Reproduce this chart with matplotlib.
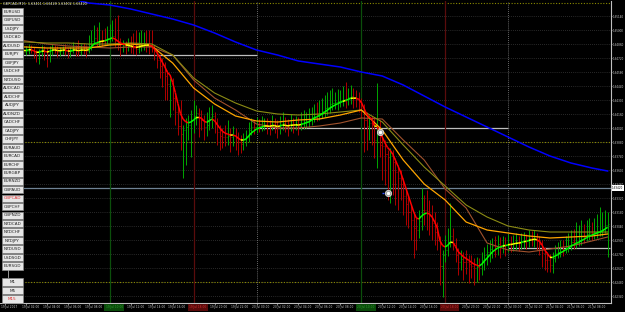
import numpy as np
import pandas as pd
import matplotlib
matplotlib.use("Agg")
import matplotlib.pyplot as plt
import matplotlib.transforms as mtransforms
from matplotlib.collections import LineCollection
from matplotlib.patches import Rectangle
from datetime import datetime, timedelta

# GBPCAD, M15 bars from 19 Jul 2017 00:00
bar_high = [
    1.6486, 1.6484, 1.6485, 1.6482, 1.6484, 1.6488, 1.6486, 1.6483, 1.6484, 1.6486, 1.6485, 1.6483,
    1.6480, 1.6481, 1.6485, 1.6484, 1.6482, 1.6484, 1.6486, 1.6485, 1.6484, 1.6483, 1.6484, 1.6486,
    1.6482, 1.6483, 1.6488, 1.6485, 1.6490, 1.6486, 1.6487, 1.6485, 1.6495, 1.6500, 1.6505, 1.6503,
    1.6508, 1.6500, 1.6502, 1.6504, 1.6506, 1.6510, 1.6512, 1.6515, 1.6492, 1.6490, 1.6489, 1.6492,
    1.6494, 1.6497, 1.6500, 1.6498, 1.6500, 1.6498, 1.6500, 1.6500, 1.6500, 1.6485, 1.6480, 1.6475,
    1.6472, 1.6468, 1.6460, 1.6452, 1.6452, 1.6435, 1.6425, 1.6430, 1.6405, 1.6412, 1.6415, 1.6420,
    1.6430, 1.6425, 1.6422, 1.6420, 1.6415, 1.6418, 1.6423, 1.6425, 1.6418, 1.6412, 1.6405, 1.6402,
    1.6405, 1.6410, 1.6402, 1.6404, 1.6402, 1.6398, 1.6395, 1.6397, 1.6400, 1.6408, 1.6412, 1.6410,
    1.6413, 1.6411, 1.6414, 1.6412, 1.6412, 1.6410, 1.6415, 1.6412, 1.6410, 1.6414, 1.6418, 1.6413,
    1.6411, 1.6416, 1.6412, 1.6414, 1.6413, 1.6418, 1.6420, 1.6418, 1.6422, 1.6423, 1.6426, 1.6428,
    1.6430, 1.6432, 1.6435, 1.6438, 1.6440, 1.6442, 1.6438, 1.6441, 1.6440, 1.6444, 1.6448, 1.6442,
    1.6445, 1.6442, 1.6440, 1.6438, 1.6432, 1.6426, 1.6418, 1.6415, 1.6414, 1.6412, 1.6447, 1.6410,
    1.6397, 1.6390, 1.6380, 1.6382, 1.6380, 1.6372, 1.6365, 1.6360, 1.6352, 1.6340, 1.6335, 1.6325,
    1.6318, 1.6312, 1.6320, 1.6342, 1.6335, 1.6340, 1.6330, 1.6325, 1.6318, 1.6308, 1.6294, 1.6280,
    1.6295, 1.6302, 1.6327, 1.6302, 1.6292, 1.6282, 1.6280, 1.6278, 1.6280, 1.6275, 1.6275, 1.6272,
    1.6273, 1.6272, 1.6278, 1.6283, 1.6286, 1.6290, 1.6292, 1.6294, 1.6295, 1.6293, 1.6294, 1.6293,
    1.6296, 1.6294, 1.6295, 1.6297, 1.6294, 1.6297, 1.6298, 1.6296, 1.6300, 1.6299, 1.6300, 1.6297,
    1.6294, 1.6290, 1.6283, 1.6278, 1.6276, 1.6278, 1.6285, 1.6288, 1.6290, 1.6290, 1.6294, 1.6297,
    1.6300, 1.6301, 1.6308, 1.6305, 1.6310, 1.6306, 1.6310, 1.6312, 1.6308, 1.6312, 1.6316, 1.6323,
    1.6318, 1.6320, 1.6318,
]
bar_low = [
    1.6474, 1.6463, 1.6475, 1.6470, 1.6472, 1.6478, 1.6476, 1.6472, 1.6475, 1.6476, 1.6477, 1.6472,
    1.6468, 1.6466, 1.6474, 1.6470, 1.6463, 1.6468, 1.6475, 1.6477, 1.6473, 1.6474, 1.6476, 1.6475,
    1.6472, 1.6473, 1.6477, 1.6474, 1.6474, 1.6475, 1.6476, 1.6473, 1.6477, 1.6480, 1.6486, 1.6484,
    1.6483, 1.6484, 1.6485, 1.6486, 1.6488, 1.6489, 1.6483, 1.6480, 1.6474, 1.6478, 1.6476, 1.6479,
    1.6477, 1.6476, 1.6475, 1.6477, 1.6479, 1.6480, 1.6478, 1.6476, 1.6478, 1.6470, 1.6462, 1.6452,
    1.6443, 1.6430, 1.6430, 1.6413, 1.6420, 1.6405, 1.6395, 1.6380, 1.6352, 1.6365, 1.6390, 1.6373,
    1.6397, 1.6405, 1.6393, 1.6400, 1.6390, 1.6394, 1.6400, 1.6402, 1.6397, 1.6385, 1.6380, 1.6382,
    1.6384, 1.6385, 1.6378, 1.6384, 1.6380, 1.6375, 1.6377, 1.6380, 1.6384, 1.6388, 1.6395, 1.6396,
    1.6397, 1.6398, 1.6399, 1.6400, 1.6396, 1.6395, 1.6400, 1.6397, 1.6392, 1.6396, 1.6400, 1.6398,
    1.6394, 1.6399, 1.6397, 1.6400, 1.6395, 1.6400, 1.6401, 1.6402, 1.6403, 1.6405, 1.6408, 1.6409,
    1.6410, 1.6412, 1.6413, 1.6415, 1.6417, 1.6420, 1.6421, 1.6420, 1.6423, 1.6424, 1.6422, 1.6425,
    1.6426, 1.6422, 1.6423, 1.6418, 1.6412, 1.6378, 1.6380, 1.6390, 1.6385, 1.6372, 1.6362, 1.6373,
    1.6350, 1.6345, 1.6330, 1.6327, 1.6335, 1.6325, 1.6320, 1.6330, 1.6315, 1.6305, 1.6302, 1.6290,
    1.6272, 1.6280, 1.6292, 1.6300, 1.6305, 1.6300, 1.6295, 1.6290, 1.6285, 1.6280, 1.6245, 1.6233,
    1.6268, 1.6274, 1.6283, 1.6280, 1.6268, 1.6255, 1.6260, 1.6250, 1.6256, 1.6247, 1.6252, 1.6245,
    1.6248, 1.6250, 1.6255, 1.6260, 1.6265, 1.6268, 1.6272, 1.6273, 1.6275, 1.6272, 1.6277, 1.6274,
    1.6278, 1.6278, 1.6279, 1.6280, 1.6279, 1.6281, 1.6282, 1.6281, 1.6283, 1.6284, 1.6283, 1.6280,
    1.6275, 1.6263, 1.6260, 1.6258, 1.6258, 1.6257, 1.6268, 1.6272, 1.6273, 1.6274, 1.6277, 1.6278,
    1.6280, 1.6281, 1.6282, 1.6284, 1.6285, 1.6287, 1.6289, 1.6290, 1.6290, 1.6291, 1.6292, 1.6294,
    1.6294, 1.6297, 1.6273,
]
bar_close = [
    1.6480, 1.6478, 1.6479, 1.6477, 1.6481, 1.6483, 1.6480, 1.6478, 1.6479, 1.6482, 1.6480, 1.6477,
    1.6475, 1.6478, 1.6481, 1.6479, 1.6476, 1.6480, 1.6482, 1.6481, 1.6478, 1.6479, 1.6481, 1.6480,
    1.6477, 1.6479, 1.6482, 1.6480, 1.6478, 1.6481, 1.6480, 1.6479, 1.6482, 1.6489, 1.6492, 1.6489,
    1.6490, 1.6490, 1.6490, 1.6492, 1.6493, 1.6494, 1.6489, 1.6485, 1.6483, 1.6484, 1.6483, 1.6484,
    1.6483, 1.6482, 1.6481, 1.6484, 1.6485, 1.6486, 1.6486, 1.6485, 1.6482, 1.6475, 1.6470, 1.6464,
    1.6458, 1.6454, 1.6446, 1.6450, 1.6432, 1.6418, 1.6404, 1.6396, 1.6400, 1.6403, 1.6405, 1.6410,
    1.6414, 1.6417, 1.6413, 1.6410, 1.6403, 1.6405, 1.6413, 1.6414, 1.6406, 1.6398, 1.6394, 1.6393,
    1.6393, 1.6394, 1.6393, 1.6395, 1.6392, 1.6388, 1.6386, 1.6390, 1.6393, 1.6400, 1.6403, 1.6403,
    1.6405, 1.6404, 1.6405, 1.6406, 1.6404, 1.6403, 1.6406, 1.6404, 1.6402, 1.6405, 1.6407, 1.6404,
    1.6403, 1.6406, 1.6405, 1.6406, 1.6404, 1.6407, 1.6408, 1.6409, 1.6410, 1.6413, 1.6416, 1.6416,
    1.6417, 1.6419, 1.6422, 1.6423, 1.6426, 1.6427, 1.6428, 1.6429, 1.6430, 1.6431, 1.6431, 1.6433,
    1.6434, 1.6432, 1.6432, 1.6428, 1.6422, 1.6410, 1.6404, 1.6407, 1.6407, 1.6390, 1.6403, 1.6385,
    1.6384, 1.6376, 1.6373, 1.6374, 1.6368, 1.6358, 1.6352, 1.6346, 1.6334, 1.6326, 1.6318, 1.6310,
    1.6302, 1.6300, 1.6309, 1.6320, 1.6320, 1.6319, 1.6314, 1.6307, 1.6298, 1.6290, 1.6264, 1.6275,
    1.6280, 1.6288, 1.6294, 1.6287, 1.6275, 1.6268, 1.6271, 1.6268, 1.6268, 1.6266, 1.6264, 1.6262,
    1.6263, 1.6262, 1.6270, 1.6275, 1.6278, 1.6281, 1.6284, 1.6284, 1.6286, 1.6285, 1.6286, 1.6285,
    1.6287, 1.6286, 1.6287, 1.6288, 1.6287, 1.6289, 1.6290, 1.6289, 1.6292, 1.6291, 1.6292, 1.6289,
    1.6286, 1.6277, 1.6270, 1.6270, 1.6265, 1.6272, 1.6277, 1.6278, 1.6281, 1.6281, 1.6284, 1.6285,
    1.6288, 1.6288, 1.6289, 1.6290, 1.6293, 1.6293, 1.6296, 1.6297, 1.6297, 1.6298, 1.6299, 1.6300,
    1.6301, 1.6305, 1.6306,
]

# slower averages, read every 8 bars
ma_bars = [0, 8, 16, 24, 32, 40, 48, 56, 64, 72, 80, 88, 96, 104, 112, 120,
           128, 136, 144, 152, 160, 168, 176, 184, 192, 200, 208, 216, 224, 230]
ma_orange = [1.6483, 1.6483, 1.6482, 1.6482, 1.6482, 1.6485, 1.6486, 1.6484, 1.6467, 1.6442,
             1.6426, 1.6414, 1.6409, 1.6408, 1.6410, 1.6411, 1.6415, 1.6420, 1.6400, 1.6370,
             1.6346, 1.6330, 1.6308, 1.6300, 1.6297, 1.6294, 1.6292, 1.6293, 1.6294, 1.6296]
ma_olive = [1.6488, 1.6488, 1.6487, 1.6487, 1.6486, 1.6486, 1.6487, 1.6486, 1.6475, 1.6452,
            1.6437, 1.6427, 1.6419, 1.6416, 1.6415, 1.6416, 1.6418, 1.6420, 1.6408, 1.6385,
            1.6363, 1.6344, 1.6325, 1.6313, 1.6304, 1.6300, 1.6298, 1.6298, 1.6298, 1.6298]
ma_brown = [1.6492, 1.6489, 1.6486, 1.6484, 1.6483, 1.6482, 1.6483, 1.6483, 1.6475, 1.6450,
            1.6432, 1.6420, 1.6406, 1.6402, 1.6402, 1.6404, 1.6407, 1.6412, 1.6411, 1.6390,
            1.6370, 1.6341, 1.6322, 1.6287, 1.6280, 1.6278, 1.6281, 1.6284, 1.6289, 1.6293]
ma_blue = [1.6555, 1.6548, 1.6540, 1.6532, 1.6527, 1.6525, 1.6521, 1.6516, 1.6511, 1.6505,
           1.6497, 1.6488, 1.6480, 1.6475, 1.6469, 1.6466, 1.6463, 1.6458, 1.6454, 1.6445,
           1.6434, 1.6423, 1.6413, 1.6403, 1.6393, 1.6383, 1.6374, 1.6367, 1.6362, 1.6359]

price_ticks = [1.6514, 1.6500, 1.6486, 1.6472, 1.6458, 1.6444, 1.6430, 1.6416, 1.6402, 1.6388,
               1.6374, 1.6360, 1.6346, 1.6332, 1.6318, 1.6304, 1.6290, 1.6276, 1.6262, 1.6248, 1.6234]
pivot_levels = [1.6527, 1.6388, 1.6248]
day_open = [(-2, 96, 1.6475), (96, 192, 1.6402), (192, 231, 1.6282)]
line_price = 1.6342
session_open = [40, 136]
session_close = [72, 168]
day_breaks = [96, 192]
trade_bars = [143, 146]
trade_prices = [1.6398, 1.6337]

pairs = ["EURUSD", "GBPUSD", "USDJPY", "USDCAD", "AUDUSD", "EURJPY", "GBPJPY", "USDCHF",
         "NZDUSD", "AUDCAD", "AUDCHF", "AUDJPY", "AUDNZD", "CADCHF", "CADJPY", "CHFJPY",
         "EURAUD", "EURCAD", "EURCHF", "EURGBP", "EURNZD", "GBPAUD", "GBPCAD", "GBPCHF",
         "GBPNZD", "NZDCAD", "NZDCHF", "NZDJPY", "NZDUSD", "USDSGD", "EURSGD"]
timeframes = ["M1", "M5", "M15"]
active = ["GBPCAD", "M15"]

start = datetime(2017, 7, 19, 0, 0)

close = np.array(bar_close)
high = np.array(bar_high)
low = np.array(bar_low)
n = len(close)
x = np.arange(n)
opn = np.r_[close[0], close[:-1]]

fig = plt.figure(figsize=(6.25, 3.12), dpi=100, facecolor="black")
ax = fig.add_axes([0, 9 / 312, 611 / 625, 302 / 312], zorder=1)
ax.set_facecolor("black")
ax.set_xlim(-1.9, 231.3)
ax.set_ylim(1.6227, 1.6529)

# grid and levels
for p in price_ticks:
    ax.axhline(p, color="#505050", lw=0.5, ls=(0, (1, 2)), zorder=0)
for p in pivot_levels:
    ax.axhline(p, color="#8a8a00", lw=0.8, ls=(0, (1, 1.5)), zorder=1)
ax.axhline(line_price, color="#6f8294", lw=0.9, zorder=1)
for a, b, p in day_open:
    ax.hlines(p, a, b, color="#bdbdbd", lw=0.9, zorder=1)
for b in day_breaks:
    ax.axvline(b, color="#8a8a8a", lw=0.6, ls=(0, (1, 1.5)), zorder=1)
for b in session_open:
    ax.axvline(b, color="#0b4f0b", lw=0.9, zorder=1)
for b in session_close:
    ax.axvline(b, color="#5a0c0c", lw=0.9, zorder=1)

# bars: green when the close is above the open, red otherwise
cols = np.where(close > opn, "#00a800", "#b00000")
ax.vlines(x, low, high, colors=cols, lw=0.7, zorder=2)
ax.hlines(opn, x - 0.4, x, colors=cols, lw=0.5, zorder=2)
ax.hlines(close, x, x + 0.4, colors=cols, lw=0.5, zorder=2)

# moving averages
ax.plot(ma_bars, ma_blue, color="#0000ff", lw=1.1, zorder=3)
ax.plot(ma_bars, ma_brown, color="#a0522d", lw=0.8, zorder=3)
ax.plot(ma_bars, ma_olive, color="#8c8c14", lw=0.8, zorder=3)
ax.plot(ma_bars, ma_orange, color="#ffa500", lw=0.9, zorder=3)

fast = pd.Series(close).ewm(span=5, adjust=False).mean().to_numpy()
d = np.diff(fast)
seg_cols = np.where(d < -0.00008, "#ff0000", np.where(d > 0.00008, "#00ff00", "#ffff00"))
segs = np.stack([np.column_stack([x[:-1], fast[:-1]]), np.column_stack([x[1:], fast[1:]])], axis=1)
ax.add_collection(LineCollection(segs, colors=seg_cols, lw=1.1, zorder=4))

# trade marks
ax.scatter(trade_bars, trade_prices, s=20, color="#9a9a9a", edgecolors="#d8d8d8", lw=0.6, zorder=5)
ax.scatter(trade_bars, trade_prices, s=2, color="white", zorder=6)
ax.hlines(trade_prices[1], trade_bars[0] + 0.8, trade_bars[0] + 1.8, color="#3050ff", lw=1.0, zorder=5)

# axes look
for s in ["left", "top"]:
    ax.spines[s].set_visible(False)
for s in ["right", "bottom"]:
    ax.spines[s].set_color("#c0c0c0")
    ax.spines[s].set_linewidth(0.8)
ax.yaxis.tick_right()
ax.set_yticks(price_ticks)
ax.set_yticklabels([f"{p:.5f}" for p in price_ticks], fontsize=2.0, color="#c8c8c8")
ax.tick_params(axis="y", length=1.0, width=0.5, color="#c0c0c0", pad=0.5)
ax.text(1.002, line_price, f"{line_price:.5f}",
        transform=mtransforms.blended_transform_factory(ax.transAxes, ax.transData),
        fontsize=2.0, color="black", va="center", ha="left",
        bbox=dict(boxstyle="square,pad=0.2", fc="white", ec="none"), clip_on=False)

label_bars = list(range(0, 225, 8))
ax.set_xticks(label_bars)
ax.set_xticklabels([])
ax.tick_params(axis="x", length=1.2, width=0.5, color="#c0c0c0")
tb = mtransforms.blended_transform_factory(ax.transData, ax.transAxes)
for b in label_bars:
    t = start + timedelta(minutes=15 * b)
    lab = t.strftime("%d %b %Y") if b == 0 else t.strftime("%d %b %H:%M")
    kw = dict(fontsize=2.1, color="#c8c8c8")
    if b in session_open:
        kw = dict(fontsize=2.1, color="#2fa02f", bbox=dict(boxstyle="square,pad=0.4", fc="#0a4a0a", ec="none"))
    elif b in session_close:
        kw = dict(fontsize=2.1, color="#d03030", bbox=dict(boxstyle="square,pad=0.4", fc="#5a0a0a", ec="none"))
    ax.text(b - 1.6, -0.008, lab, transform=tb, va="top", ha="left", clip_on=False, **kw)

# symbol / timeframe buttons panel
ui = fig.add_axes([0, 0, 1, 1], zorder=5)
ui.set_xlim(0, 625)
ui.set_ylim(312, 0)
ui.axis("off")
ui.patch.set_alpha(0)
ui.add_patch(Rectangle((0, 7), 24, 296, fc="black", ec="none"))
for k, name in enumerate(pairs):
    yc = 11.7 + 8.48 * k
    ui.add_patch(Rectangle((1.5, yc - 3.7), 21.5, 7.4, fc="#e6e6e6", ec="#8c8c8c", lw=0.5))
    ui.text(12.2, yc + 0.2, name, fontsize=3.0, ha="center", va="center",
            color="#e03030" if name in active else "#202020")
ui.plot([7.5, 7.5], [270, 277], color="#b0b0b0", lw=0.6)
for k, name in enumerate(timeframes):
    yc = 282 + 8.5 * k
    ui.add_patch(Rectangle((2, yc - 3.7), 20.5, 7.4, fc="#e6e6e6", ec="#8c8c8c", lw=0.5))
    ui.text(12.2, yc + 0.2, name, fontsize=3.0, ha="center", va="center",
            color="#e03030" if name in active else "#202020")
ui.text(3, 4.2, "GBPCAD,M15  1.63411 1.63428 1.63402 1.63420", fontsize=2.4, color="#e0e0e0",
        ha="left", va="center")

fig.savefig("out.png", dpi=100, facecolor="black")
